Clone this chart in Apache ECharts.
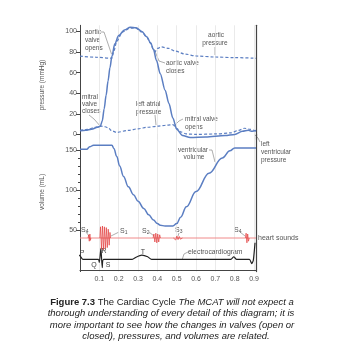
<!DOCTYPE html>
<html>
<head>
<meta charset="utf-8">
<script src="https://cdn.jsdelivr.net/npm/echarts@6/dist/echarts.min.js"></script>
<style>
  html, body { margin: 0; padding: 0; background: #fff; }
  #chart { width: 350px; height: 350px; }
</style>
</head>
<body>
<div id="chart"></div>
<script>
// tick labels
const timeTicks = [0.1, 0.2, 0.3, 0.4, 0.5, 0.6, 0.7, 0.8, 0.9];
const pressureTicks = [0, 20, 40, 60, 80, 100];
const volumeTicks = [50, 100, 150];
const volumeMinorTicks = [60, 70, 80, 90, 110, 120, 130, 140];

// pressure (mmHg) vs time (s)
const lvPressure = [
  [0, 3.5], [0.03, 4], [0.06, 5], [0.09, 7], [0.105, 8], [0.115, 13], [0.125, 25], [0.135, 38],
  [0.145, 52], [0.155, 65], [0.165, 76], [0.18, 88], [0.2, 96], [0.23, 101.5], [0.26, 104],
  [0.29, 103.5], [0.32, 100], [0.345, 95], [0.365, 89], [0.38, 82.5], [0.395, 72], [0.415, 59],
  [0.44, 43], [0.46, 30], [0.48, 16], [0.5, 5], [0.53, -1], [0.57, -3], [0.65, -2.5], [0.75, -1],
  [0.8, 0], [0.84, 3], [0.87, 4], [0.89, 3], [0.91, 4]
];
const aorticPressure = [
  [0, 76], [0.08, 75], [0.165, 74], [0.175, 81], [0.19, 90.5], [0.22, 99.5], [0.26, 103.3],
  [0.29, 103], [0.32, 99.5], [0.345, 94.5], [0.365, 88.5], [0.38, 82], [0.388, 80.5], [0.4, 83.5],
  [0.42, 85], [0.46, 83.5], [0.49, 81], [0.545, 78], [0.6, 76.2], [0.7, 75.2], [0.8, 74.6], [0.91, 74]
];
const atrialPressure = [
  [0, 4], [0.04, 5], [0.08, 7], [0.11, 8], [0.13, 7.5], [0.145, 6.5], [0.165, 3.5], [0.19, 2],
  [0.25, 4], [0.3, 5.5], [0.35, 7], [0.4, 8], [0.45, 9], [0.48, 9.5], [0.5, 6], [0.52, 2.5],
  [0.55, 0.5], [0.6, 0], [0.7, 0.5], [0.78, 1.5], [0.82, 4], [0.85, 6], [0.88, 5], [0.91, 3]
];

// volume (mL) vs time (s)
const ventricularVolume = [
  [0, 151], [0.035, 151], [0.05, 154], [0.07, 156], [0.165, 156], [0.175, 152], [0.19, 142],
  [0.205, 130], [0.225, 117], [0.25, 104], [0.277, 94], [0.3, 86], [0.33, 77], [0.355, 69],
  [0.38, 62.5], [0.4, 58], [0.415, 56], [0.44, 55], [0.48, 55], [0.5, 58], [0.52, 66],
  [0.55, 79], [0.6, 98], [0.667, 121], [0.736, 140], [0.775, 149], [0.8, 152.5], [0.91, 152.5]
];

// heart sounds (drawn on the volume scale, baseline 40)
const soundBase = [[0, 40], [0.91, 40]];
const soundS4a = [[0.042, 40], [0.045, 44], [0.048, 36], [0.051, 45], [0.054, 37], [0.056, 40]];
const soundS1 = [
  [0.103, 40], [0.106, 54], [0.111, 26], [0.116, 55], [0.121, 25], [0.126, 54], [0.131, 27],
  [0.136, 53], [0.141, 28], [0.146, 51], [0.151, 31], [0.155, 47], [0.158, 40]
];
const soundS2 = [
  [0.378, 40], [0.382, 45], [0.387, 35], [0.392, 46], [0.397, 34], [0.402, 45], [0.407, 35],
  [0.412, 44], [0.416, 40]
];
const soundS3 = [
  [0.483, 40], [0.489, 42.5], [0.495, 37.5], [0.501, 42.5], [0.507, 38], [0.513, 42],
  [0.519, 38.5], [0.525, 41], [0.53, 40]
];
const soundS4b = [[0.855, 40], [0.859, 46], [0.863, 34], [0.867, 45], [0.871, 36], [0.875, 40]];

// electrocardiogram (volume scale, baseline ~13)
const ecg = [
  [-0.045, 13.2], [-0.025, 13.2], [-0.015, 16], [-0.005, 18.5], [0.005, 16], [0.015, 13.2],
  [0.095, 13.2], [0.1, 9.5], [0.108, 27], [0.115, 3], [0.122, 13.2], [0.27, 13.2], [0.29, 16],
  [0.32, 18.5], [0.35, 16.5], [0.37, 13.2], [0.78, 13.2], [0.795, 16.5], [0.81, 13.2],
  [0.876, 13.2], [0.888, 8], [0.896, 12], [0.905, 34]
];

const FONT = 'Liberation Sans';
const BLUE = '#5b7ec2';
const AXIS = '#444';

let myChart = echarts.init(document.getElementById('chart'));

// 小工具：注释文字与引线
function txt(x, y, text, extra) {
  return {
    type: 'text', x: x, y: y, silent: true,
    style: Object.assign({
      text: text, fontSize: 6.5, fontFamily: FONT, fill: '#555',
      align: 'left', verticalAlign: 'middle'
    }, extra || {})
  };
}
function lead(points, color) {
  return {
    type: 'polyline', silent: true,
    shape: { points: points },
    style: { stroke: color || '#777', lineWidth: 0.6, fill: null }
  };
}
const subRich = { s: { fontSize: 5, fontFamily: FONT, fill: '#555', verticalAlign: 'bottom', padding: [4, 0, 0, 0] } };
function sLabel(x, y, n) {
  return txt(x, y, 'S{s|' + n + '}', { fontSize: 7, rich: subRich });
}
const CAP = { align: 'center', fontSize: 9.5, fontStyle: 'italic', fill: '#222' };

const graphics = [
  // axis titles
  txt(42, 85, 'pressure (mmHg)', { align: 'center', fontSize: 6.5 }),
  txt(42, 192, 'volume (mL)', { align: 'center', fontSize: 6.5 }),

  txt(85, 32, 'aortic'), txt(85, 40, 'valve'), txt(85, 48, 'opens'),
  lead([[101, 32], [104, 32], [111.5, 54]]),
  txt(82, 97, 'mitral'), txt(82, 104, 'valve'), txt(82, 111, 'closes'),
  lead([[89, 115], [94, 119], [101, 127]]),
  txt(136, 104, 'left atrial'), txt(136, 112, 'pressure'),
  lead([[155, 115], [156, 125]]),
  txt(166, 63, 'aortic valve'), txt(166, 71, 'closes'),
  lead([[154, 49], [159, 61], [165, 63]]),
  txt(216, 35, 'aortic', { align: 'center' }), txt(215, 43, 'pressure', { align: 'center' }),
  lead([[215, 47], [215, 55]]),
  txt(185, 119, 'mitral valve'), txt(185, 127, 'opens'),
  lead([[183, 119], [179, 121], [174, 126]]),
  txt(193, 150, 'ventricular', { align: 'center' }), txt(194, 157, 'volume', { align: 'center' }),
  lead([[209, 150], [212, 150], [215, 162]]),
  txt(261, 144, 'left'), txt(261, 152, 'ventricular'), txt(261, 160, 'pressure'),
  lead([[255, 135], [258, 138], [260, 142]]),
  txt(258, 238, 'heart sounds', { fontSize: 7 }),
  txt(188, 252, 'electrocardiogram', { fontSize: 6.8 }),
  lead([[188, 252], [184, 254], [182, 260]]),

  // ECG waves
  txt(82, 253, 'P', { align: 'center', fontSize: 7, fill: '#444' }),
  txt(94, 265, 'Q', { align: 'center', fontSize: 7, fill: '#444' }),
  txt(104, 251, 'R', { align: 'center', fontSize: 7, fill: '#444' }),
  txt(108, 265, 'S', { align: 'center', fontSize: 7, fill: '#444' }),
  txt(143, 252, 'T', { align: 'center', fontSize: 7, fill: '#444' }),

  // heart sounds labels
  sLabel(81, 230, 4), lead([[86, 232], [89, 236]]),
  sLabel(120, 231, 1), lead([[119, 232], [111, 236]]),
  sLabel(142, 231, 2), lead([[149, 232], [154, 236]]),
  sLabel(175, 230, 3), lead([[179, 233], [178, 236]]),
  sLabel(234, 230, 4), lead([[240, 232], [245, 236]]),

  // caption
  txt(172, 302, '{b|Figure 7.3} The Cardiac Cycle {i|The MCAT will not expect a}', {
    align: 'center', fontSize: 9.5, fill: '#222',
    rich: {
      b: { fontWeight: 'bold', fontSize: 9.5, fontFamily: FONT, fill: '#222' },
      i: { fontStyle: 'italic', fontSize: 9.5, fontFamily: FONT, fill: '#222' }
    }
  }),
  txt(171, 313.5, 'thorough understanding of every detail of this diagram; it is', CAP),
  txt(172, 325, 'more important to see how the changes in valves (open or', CAP),
  txt(176, 336.5, 'closed), pressures, and volumes are related.', CAP)
];
// rotate axis titles
graphics[0].rotation = Math.PI / 2;
graphics[1].rotation = Math.PI / 2;

function soundSeries(data) {
  return {
    type: 'line', xAxisIndex: 1, yAxisIndex: 2, data: data, symbol: 'none',
    lineStyle: { color: '#e23b3b', width: 0.7 }, z: 4
  };
}

let options = {
  animation: false,
  grid: [
    { left: 80, right: 94, top: 25.3, height: 114.3 },
    { left: 80, right: 94, top: 134, height: 137.6 }
  ],
  xAxis: [0, 1].map(i => ({
    gridIndex: i, type: 'value', min: 0, max: 0.91, interval: 0.1,
    axisLine: { show: i === 1, lineStyle: { color: AXIS, width: 1 } },
    axisTick: { show: false },
    axisLabel: {
      show: i === 1, customValues: timeTicks, color: '#555', fontSize: 7,
      fontFamily: FONT, margin: 4, formatter: v => v.toFixed(1)
    },
    splitLine: { show: true, lineStyle: { color: '#e4e4e4', width: 0.8 } }
  })),
  yAxis: [
    {
      gridIndex: 0, type: 'value', min: -5, max: 106, position: 'left',
      axisLine: { show: true, lineStyle: { color: AXIS } },
      axisTick: { show: true, customValues: pressureTicks, length: 4, lineStyle: { color: AXIS } },
      axisLabel: { customValues: pressureTicks, color: '#555', fontSize: 7, fontFamily: FONT, margin: 3 },
      splitLine: { show: false }
    },
    {
      gridIndex: 0, type: 'value', min: -5, max: 106, position: 'right',
      axisLine: { show: true, lineStyle: { color: AXIS, width: 1.2 } },
      axisTick: { show: false }, axisLabel: { show: false }, splitLine: { show: false }
    },
    {
      gridIndex: 1, type: 'value', min: -2, max: 170, position: 'left',
      axisLine: { show: true, lineStyle: { color: AXIS } },
      axisTick: { show: true, customValues: volumeTicks, length: 4, lineStyle: { color: AXIS } },
      axisLabel: { customValues: volumeTicks, color: '#555', fontSize: 7, fontFamily: FONT, margin: 3 },
      splitLine: { show: false }
    },
    {
      gridIndex: 1, type: 'value', min: -2, max: 170, position: 'left', offset: 0,
      axisLine: { show: false },
      axisTick: { show: true, customValues: volumeMinorTicks, length: 2, lineStyle: { color: AXIS } },
      axisLabel: { show: false }, splitLine: { show: false }
    },
    {
      gridIndex: 1, type: 'value', min: -2, max: 170, position: 'right',
      axisLine: { show: true, lineStyle: { color: AXIS, width: 1.2 } },
      axisTick: { show: false }, axisLabel: { show: false }, splitLine: { show: false }
    }
  ],
  series: [
    {
      name: 'aortic pressure', type: 'line', xAxisIndex: 0, yAxisIndex: 0, data: aorticPressure,
      symbol: 'none', smooth: 0.3, smoothMonotone: 'x',
      lineStyle: { color: BLUE, width: 1.2, type: [3, 2] }
    },
    {
      name: 'left atrial pressure', type: 'line', xAxisIndex: 0, yAxisIndex: 0, data: atrialPressure,
      symbol: 'none', smooth: 0.3, smoothMonotone: 'x',
      lineStyle: { color: BLUE, width: 1.2, type: [3, 2] }
    },
    {
      name: 'left ventricular pressure', type: 'line', xAxisIndex: 0, yAxisIndex: 0, data: lvPressure,
      symbol: 'none', smooth: 0.3, smoothMonotone: 'x', clip: false,
      lineStyle: { color: BLUE, width: 1.5 }
    },
    {
      name: 'ventricular volume', type: 'line', xAxisIndex: 1, yAxisIndex: 2, data: ventricularVolume,
      symbol: 'none', smooth: 0.4, smoothMonotone: 'x',
      lineStyle: { color: BLUE, width: 1.5 }
    },
    {
      name: 'heart sounds', type: 'line', xAxisIndex: 1, yAxisIndex: 2, data: soundBase,
      symbol: 'none', lineStyle: { color: '#f08a8a', width: 1 }
    },
    soundSeries(soundS4a), soundSeries(soundS1), soundSeries(soundS2),
    soundSeries(soundS3), soundSeries(soundS4b),
    {
      name: 'electrocardiogram', type: 'line', xAxisIndex: 1, yAxisIndex: 2, data: ecg,
      symbol: 'none', smooth: 0.2, clip: false, z: 3,
      lineStyle: { color: '#222', width: 1.2 }
    }
  ],
  graphic: graphics
};

myChart.setOption(options);
</script>
</body>
</html>
